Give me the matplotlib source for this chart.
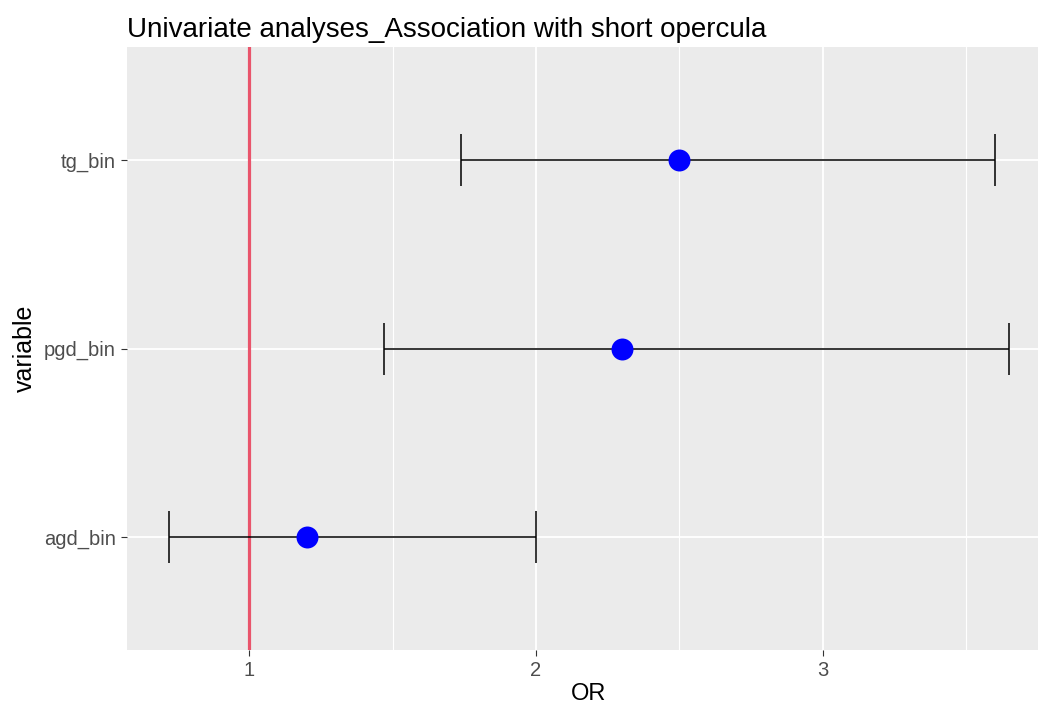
import matplotlib.pyplot as plt
from matplotlib.ticker import FixedLocator

plt.rcParams['font.family'] = ['Liberation Sans', 'DejaVu Sans']

# odds ratios with confidence limits, bottom to top
variables = ['agd_bin', 'pgd_bin', 'tg_bin']
odds_ratio = [1.2, 2.3, 2.5]
ci_low = [0.72, 1.47, 1.74]
ci_high = [2.0, 3.65, 3.6]

fig = plt.figure(figsize=(10.38, 7.05), dpi=100)
# panel runs past the right edge of the figure
ax = fig.add_axes([127 / 1038, 55 / 705, 924 / 1038, 603 / 705])
ax.set_facecolor('#EBEBEB')
for s in ax.spines.values():
    s.set_visible(False)

ypos = list(range(len(variables)))

lo = min(ci_low)
hi = max(ci_high)
pad = 0.05 * (hi - lo)
ax.set_xlim(lo - pad, hi + pad)
ax.set_ylim(-0.6, len(variables) - 1 + 0.6)

ax.xaxis.set_major_locator(FixedLocator([1, 2, 3]))
ax.xaxis.set_minor_locator(FixedLocator([1.5, 2.5, 3.5]))
ax.set_yticks(ypos)
ax.set_yticklabels(variables)
ax.grid(which='major', color='white', linewidth=1.3)
ax.grid(which='minor', axis='x', color='white', linewidth=0.8)
ax.set_axisbelow(True)

ax.tick_params(which='major', length=4, width=0.8, color='#333333',
               labelcolor='#4D4D4D', labelsize=14.5, pad=4)
ax.tick_params(which='minor', length=0)

ax.axvline(1, color='#E9546B', linewidth=2.3, zorder=2)

err_lo = [o - l for o, l in zip(odds_ratio, ci_low)]
err_hi = [h - o for o, h in zip(odds_ratio, ci_high)]
ax.errorbar(odds_ratio, ypos, xerr=[err_lo, err_hi], fmt='none',
            ecolor='black', elinewidth=1.1, capsize=18.5, capthick=1.1, zorder=3)
ax.scatter(odds_ratio, ypos, s=250, color='blue', zorder=4, linewidths=0)

ax.set_xlabel('OR', fontsize=17, color='black', labelpad=2)
ax.set_ylabel('variable', fontsize=18, color='black', labelpad=5)
ax.set_title('Univariate analyses_Association with short opercula',
             fontsize=20, loc='left', pad=7)

fig.savefig('out.png', dpi=100)
